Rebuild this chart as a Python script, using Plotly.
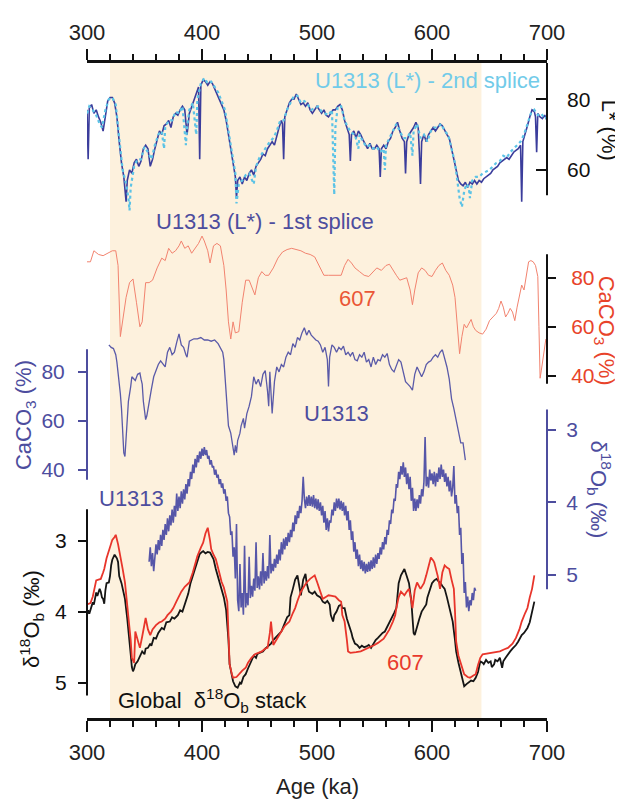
import plotly.graph_objects as go

# ---------------- data ----------------
# U1313 L* - 1st splice
lstar1_age = [300, 301, 302, 304, 306, 308, 310, 312, 314, 316,
              318, 320, 322, 324, 326, 328, 330, 332, 333, 334,
              335, 337, 339, 341, 343, 345, 347, 349, 351, 353,
              355, 357, 359, 361, 363, 365, 367, 369, 371, 373,
              375, 377, 379, 381, 383, 385, 387, 389, 391, 393,
              395, 397, 398, 399, 401, 403, 405, 407, 409, 411,
              413, 415, 417, 419, 421, 423, 425, 427, 429, 430,
              431, 433, 435, 437, 439, 441, 443, 445, 447, 449,
              451, 453, 455, 457, 459, 461, 463, 465, 467, 469,
              470, 471, 472, 474, 476, 478, 480, 482, 484, 486,
              488, 490, 492, 494, 496, 498, 500, 502, 504, 506,
              508, 510, 512, 514, 516, 518, 520, 522, 524, 526,
              528, 529, 530, 532, 534, 536, 538, 540, 542, 544,
              546, 548, 550, 552, 554, 555, 556, 558, 560, 562,
              564, 566, 568, 570, 572, 574, 576, 577, 578, 580,
              582, 584, 586, 588, 589, 590, 591, 593, 595, 597,
              599, 601, 603, 605, 607, 609, 611, 613, 615, 617,
              619, 621, 623, 625, 627, 629, 631, 633, 635, 637,
              639, 641, 643, 645, 647, 649, 651, 653, 655, 657,
              659, 661, 663, 665, 667, 669, 671, 673, 675, 677,
              678, 679, 681, 683, 685, 687, 689, 690, 691, 692,
              694, 696, 698, 700]
lstar1_val = [77, 63, 77.5, 78.5, 76, 77, 75, 73.5, 71, 76,
              79.5, 80.5, 80.5, 79, 75, 68, 62, 58, 55, 51,
              57, 60, 59, 62, 63, 61, 62.5, 66, 67, 66,
              61, 63, 66, 69, 71, 70, 72.5, 73, 74, 72,
              75, 76, 75.5, 77, 78, 77, 70, 76, 78, 80,
              81.5, 83.5, 63, 84, 85.5, 85, 84, 85, 84.5, 83,
              82, 80.5, 79, 77, 74, 70, 66, 62, 58, 52,
              57, 58, 56, 58, 57, 59, 60, 58.5, 61, 62,
              63, 64.5, 64, 66, 67, 68, 67, 70, 72, 74,
              73, 63, 75, 77, 79, 80, 80, 81.5, 80, 78.5,
              79, 78, 79, 77, 76, 77, 78, 77, 76, 77,
              75.5, 75, 76, 77, 77, 78, 78.5, 77, 74, 72,
              70, 62.5, 70, 71, 69, 71, 70, 68.5, 67, 66,
              67.5, 66, 66, 67, 66, 58, 66, 67, 66, 68,
              69, 71, 72, 73.5, 71, 69, 68, 59, 68, 70,
              71, 72, 73.5, 72, 65, 56, 68, 70, 68, 70,
              71, 72, 71, 72, 73, 72.5, 71, 70, 69, 66,
              63, 60, 57, 56, 55.5, 56.5, 55, 56.5, 56, 57,
              56, 57, 56.5, 57.5, 58, 58.5, 59, 60, 60.5, 61,
              62, 62.5, 63, 63.5, 63, 64, 65, 65.5, 66, 67,
              51, 68, 70, 72.5, 75, 77, 76.5, 75, 65, 76,
              75, 74.5, 75.5, 74]

# U1313 L* - 2nd splice
lstar2_age = [300, 302, 305, 308, 311, 313, 316, 319, 322, 325,
              328, 331, 334, 336, 337, 338, 341, 344, 347, 350,
              353, 356, 359, 362, 365, 367, 368, 371, 374, 377,
              380, 383, 386, 387, 389, 392, 395, 396, 399, 402,
              405, 408, 411, 414, 417, 420, 423, 426, 429, 430,
              432, 435, 438, 441, 444, 445, 447, 450, 453, 456,
              459, 462, 465, 468, 471, 474, 477, 480, 483, 486,
              489, 492, 495, 498, 501, 504, 507, 510, 513, 515,
              516, 518, 521, 524, 527, 530, 533, 536, 537, 540,
              543, 546, 549, 552, 555, 558, 559, 560, 563, 566,
              569, 572, 575, 578, 581, 583, 584, 587, 590, 593,
              596, 599, 602, 605, 608, 611, 614, 617, 620, 622,
              624, 626, 628, 630, 632, 633, 635, 638, 641, 644,
              647, 650, 653, 656, 659, 662, 665, 668, 671, 674,
              677, 680, 683, 686, 689, 692, 695, 698, 700]
lstar2_val = [76, 78, 77, 75.5, 73, 72, 77, 80, 80.5, 78.5,
              69, 60, 56, 52, 48.5, 55, 61, 63, 63, 66.5,
              65, 63, 67, 70, 71, 66, 72, 74, 74, 76.5,
              76, 78, 67, 72, 77, 79, 70, 80, 84.5, 86,
              84.5, 85, 83.5, 82, 79.5, 77, 71, 65, 59, 50.5,
              56, 57, 58.5, 59, 57, 56, 61, 63.5, 65, 66.5,
              68, 69, 71, 74, 74, 77, 79, 81, 81, 79,
              79.5, 78.5, 77, 77.5, 78, 76.5, 76, 75.5, 77, 53,
              72, 78, 78, 74, 72, 70.5, 70, 66, 70, 68,
              66.5, 67, 66, 66.5, 65, 66, 60, 67, 69, 71,
              73, 71, 69, 69, 70.5, 64, 71, 73, 69, 70,
              68, 71, 72, 72, 73, 71, 70, 66, 62, 57,
              52, 49.5, 54, 56, 55, 52, 57, 58, 58, 59,
              59.5, 60, 61, 62, 62.5, 64, 63.5, 65, 66, 67,
              68, 70, 73, 76, 77, 75.5, 76, 74.5, 75]

# ODP 607 CaCO3 (%)
caco3_607_age = [300, 303, 306, 310, 314, 318, 322, 325, 327, 329,
                 331, 334, 337, 340, 343, 346, 348, 351, 354, 357,
                 361, 365, 368, 371, 374, 377, 380, 382, 385, 388,
                 391, 394, 397, 400, 402, 405, 407, 410, 413, 416,
                 419, 421, 423, 425, 427, 429, 432, 435, 438, 441,
                 444, 446, 449, 452, 455, 458, 462, 466, 470, 474,
                 478, 482, 486, 490, 494, 498, 502, 506, 510, 514,
                 518, 521, 524, 527, 530, 533, 537, 541, 545, 548,
                 552, 556, 560, 563, 566, 569, 572, 575, 578, 581,
                 583, 585, 588, 591, 594, 597, 600, 603, 606, 609,
                 612, 615, 618, 620, 622, 624, 626, 628, 630, 632,
                 634, 636, 638, 641, 644, 647, 650, 653, 656, 658,
                 660, 662, 664, 666, 668, 670, 672, 674, 676, 678,
                 680, 682, 684, 686, 688, 690, 692, 693, 694, 695,
                 697, 699]
caco3_607_val = [86.5, 86.5, 91, 89.5, 89, 90, 91, 91, 85, 56,
                 62, 72, 78, 79.5, 70, 60, 62, 78, 78, 79,
                 84, 88, 87, 92, 90, 91, 93, 95, 92, 93,
                 90, 92, 94, 97, 95, 91, 86, 93, 94, 93,
                 85, 75, 62, 55, 62, 57.5, 58, 70, 79, 79,
                 75, 73, 80, 82.5, 81, 81, 84, 88, 90.5, 91.5,
                 92, 91.5, 91, 90, 89.5, 88.5, 85, 81, 81, 81,
                 81, 81, 85, 87.5, 86, 84, 82.5, 81, 80.5, 82,
                 84, 83, 85, 85.5, 83, 81, 79, 79.5, 80, 75,
                 69, 75, 82, 84, 83, 81, 80.5, 83, 85, 86,
                 83, 81, 77, 72, 60, 49, 56, 61, 59.5, 61,
                 63, 60, 58.5, 57.5, 57, 59, 62.5, 64, 65.5, 67.5,
                 70.5, 68, 64, 65.5, 67.5, 66, 62.5, 68, 72, 77,
                 75, 80, 86.5, 87, 86.5, 85, 80.5, 60, 39, 42,
                 48.5, 55]

# IODP U1313 CaCO3 (%)
caco3_u1313_age = [319, 321, 323, 325, 326, 328, 329, 330, 331, 332,
                   333, 334, 335, 336, 338, 339, 341, 342, 344, 346,
                   347, 348, 349, 350, 351, 352, 354, 356, 358, 360,
                   362, 364, 366, 368, 370, 372, 374, 376, 378, 380,
                   382, 384, 386, 387, 389, 391, 393, 396, 399, 402,
                   405, 408, 411, 414, 416, 418, 419, 420, 421, 422,
                   423, 425, 427, 428, 429, 430, 431, 433, 434, 436,
                   437, 439, 441, 443, 445, 447, 449, 451, 453, 455,
                   457, 458, 459, 461, 463, 465, 467, 469, 471, 473,
                   475, 477, 479, 481, 483, 485, 487, 489, 491, 493,
                   495, 497, 499, 501, 503, 505, 507, 509, 510, 511,
                   513, 515, 517, 519, 521, 523, 525, 527, 529, 531,
                   533, 535, 537, 539, 541, 543, 545, 547, 549, 551,
                   553, 555, 557, 559, 561, 563, 565, 567, 569, 571,
                   573, 575, 577, 579, 581, 583, 585, 587, 589, 591,
                   593, 595, 597, 599, 601, 603, 605, 607, 609, 611,
                   613, 615, 617, 619, 621, 622, 623, 624, 625, 627,
                   628, 629]
caco3_u1313_val = [91, 90, 89.5, 87, 84, 76, 71, 65, 55, 47,
                   45.5, 52, 60, 68, 74, 78, 77, 76.5, 79, 79.5,
                   77, 75, 68, 63, 60.5, 62, 68.5, 73, 78, 80.5,
                   83, 84.5, 83, 82, 88, 90, 87, 88, 92, 95.5,
                   91, 90, 87, 86, 92.5, 93, 93.5, 93.5, 94, 93,
                   93, 92.5, 93, 91.5, 90, 88, 85, 78, 71, 64,
                   58, 55, 48, 46, 50, 47, 52, 55, 58, 61,
                   57, 63, 66, 70, 78, 75, 77, 74, 79, 80.5,
                   72, 66, 80, 63, 76, 82, 80, 83, 82, 86,
                   88, 87, 91.5, 90, 94, 93, 96, 98, 95, 97,
                   95, 94, 93, 92.5, 91, 88, 90, 85, 74, 86,
                   91, 90, 88, 90, 89, 90.5, 87, 88, 86.5, 88,
                   85, 84.5, 87, 86, 88, 84, 85, 82, 86, 83,
                   85, 84.5, 87, 86, 87.5, 83, 81, 80, 83, 85,
                   84, 80, 76, 75, 74, 72.5, 79, 82, 80, 78,
                   80, 83, 84, 84.5, 86, 87, 86, 88, 89, 86,
                   82, 77, 69, 65, 60, 58, 55, 52, 51, 51,
                   47, 44]

# IODP U1313 benthic d18O (permil)
d18o_u1313_age = [354, 355, 356, 357, 358, 359, 360, 361, 362, 363,
                  364, 365, 366, 367, 368, 369, 370, 371, 372, 373,
                  374, 375, 376, 377, 378, 379, 380, 381, 382, 383,
                  384, 385, 386, 387, 388, 389, 390, 391, 392, 393,
                  394, 395, 396, 397, 398, 399, 400, 401, 402, 403,
                  404, 405, 406, 407, 408, 409, 410, 411, 412, 413,
                  414, 415, 416, 417, 418, 419, 420, 421, 422, 423,
                  424, 425, 426, 427, 428, 429, 430, 431, 432, 433,
                  434, 435, 436, 437, 438, 439, 440, 441, 442, 443,
                  444, 445, 446, 447, 448, 449, 450, 451, 452, 453,
                  454, 455, 456, 457, 458, 459, 460, 461, 462, 463,
                  464, 465, 466, 467, 468, 469, 470, 471, 472, 473,
                  474, 475, 476, 477, 478, 479, 480, 481, 482, 483,
                  484, 485, 486, 487, 488, 489, 490, 491, 492, 493,
                  494, 495, 496, 497, 498, 499, 500, 501, 502, 503,
                  504, 505, 506, 507, 508, 509, 510, 511, 512, 513,
                  514, 515, 516, 517, 518, 519, 520, 521, 522, 523,
                  524, 525, 526, 527, 528, 529, 530, 531, 532, 533,
                  534, 535, 536, 537, 538, 539, 540, 541, 542, 543,
                  544, 545, 546, 547, 548, 549, 550, 551, 552, 553,
                  554, 555, 556, 557, 558, 559, 560, 561, 562, 563,
                  564, 565, 566, 567, 568, 569, 570, 571, 572, 573,
                  574, 575, 576, 577, 578, 579, 580, 581, 582, 583,
                  584, 585, 586, 587, 588, 589, 590, 591, 592, 593,
                  594, 595, 596, 597, 598, 599, 600, 601, 602, 603,
                  604, 605, 606, 607, 608, 609, 610, 611, 612, 613,
                  614, 615, 616, 617, 618, 619, 620, 621, 622, 623,
                  624, 625, 626, 627, 628, 629, 630, 631, 632, 633,
                  634, 635, 636, 637, 638]
d18o_u1313_val = [4.82, 4.62, 4.88, 4.70, 4.95, 4.75, 4.58, 4.72, 4.52, 4.66,
                  4.45, 4.60, 4.38, 4.52, 4.30, 4.45, 4.22, 4.40, 4.18, 4.32,
                  4.10, 4.28, 4.05, 4.20, 3.88, 4.12, 3.92, 4.08, 3.85, 4.02,
                  3.82, 3.96, 3.75, 3.88, 3.68, 3.78, 3.58, 3.68, 3.48, 3.60,
                  3.40, 3.52, 3.35, 3.45, 3.30, 3.40, 3.26, 3.36, 3.24, 3.35,
                  3.28, 3.40, 3.36, 3.48, 3.42, 3.52, 3.50, 3.62, 3.55, 3.66,
                  3.62, 3.75, 3.68, 3.80, 3.74, 3.88, 3.82, 3.98, 3.92, 4.15,
                  4.20, 4.45, 4.40, 4.75, 4.62, 5.05, 4.30, 5.35, 5.50, 4.85,
                  5.45, 5.25, 5.55, 4.60, 5.45, 5.25, 5.42, 4.75, 5.32, 5.15,
                  5.30, 5.05, 5.22, 4.55, 5.18, 5.02, 5.20, 4.95, 5.15, 4.70,
                  5.12, 4.95, 5.08, 4.88, 5.05, 4.45, 4.98, 4.85, 4.95, 4.78,
                  4.90, 4.72, 4.85, 4.65, 4.80, 4.55, 4.72, 4.50, 4.65, 4.48,
                  4.60, 4.42, 4.55, 4.38, 4.48, 4.28, 4.40, 4.18, 4.30, 4.12,
                  4.22, 4.05, 4.15, 3.98, 3.65, 3.95, 4.08, 3.92, 4.05, 3.90,
                  4.05, 3.92, 4.06, 3.90, 4.08, 3.95, 4.10, 3.96, 4.12, 4.00,
                  4.18, 4.05, 4.28, 4.12, 4.38, 4.22, 4.40, 4.25, 4.28, 4.10,
                  4.18, 4.00, 4.12, 3.95, 4.08, 3.95, 4.10, 3.98, 4.12, 4.00,
                  4.18, 4.05, 4.25, 4.12, 4.38, 4.25, 4.52, 4.40, 4.68, 4.55,
                  4.78, 4.65, 4.88, 4.72, 4.92, 4.80, 4.95, 4.82, 4.98, 4.85,
                  4.96, 4.82, 4.95, 4.80, 4.92, 4.76, 4.90, 4.72, 4.85, 4.70,
                  4.78, 4.62, 4.72, 4.55, 4.65, 4.48, 4.58, 4.38, 4.45, 4.25,
                  4.30, 4.10, 4.15, 3.95, 3.98, 3.75, 3.80, 3.58, 3.68, 3.50,
                  3.62, 3.45, 3.65, 3.52, 3.75, 3.60, 3.82, 3.65, 3.98, 3.80,
                  4.12, 3.95, 4.12, 3.96, 4.08, 3.90, 4.02, 3.82, 3.92, 3.72,
                  3.10, 3.78, 3.65, 3.80, 3.55, 3.70, 3.60, 3.75, 3.58, 3.78,
                  3.60, 3.72, 3.52, 3.68, 3.48, 3.65, 3.55, 3.72, 3.60, 3.78,
                  3.65, 3.85, 3.70, 3.92, 3.80, 3.50, 4.02, 3.90, 4.15, 4.05,
                  4.45, 4.35, 4.85, 4.70, 5.25, 5.10, 5.45, 5.30, 5.50, 5.35,
                  5.42, 5.25, 5.35, 5.18, 5.22]

# Global benthic d18O stack (permil)
stack_age = [300, 301, 302, 304, 305, 306, 308, 309, 311, 312,
             313, 314, 315, 316, 317, 319, 320, 321, 322, 324,
             326, 327, 328, 330, 333, 335, 336, 338, 339, 340,
             341, 342, 344, 346, 348, 350, 351, 353, 355, 356,
             358, 360, 362, 365, 367, 369, 372, 374, 376, 379,
             381, 383, 386, 388, 390, 392, 394, 396, 398, 400,
             401, 403, 405, 407, 409, 410, 412, 414, 415, 417,
             419, 421, 422, 423, 424, 426, 427, 429, 431, 433,
             434, 436, 438, 440, 442, 443, 445, 447, 448, 450,
             453, 455, 458, 460, 462, 464, 466, 469, 471, 472,
             474, 476, 477, 479, 481, 483, 485, 486, 488, 490,
             491, 493, 496, 498, 500, 503, 505, 507, 509, 511,
             512, 514, 515, 517, 519, 521, 522, 524, 526, 528,
             530, 531, 533, 535, 537, 539, 541, 543, 545, 547,
             549, 551, 553, 555, 557, 559, 561, 563, 565, 567,
             569, 570, 571, 573, 575, 576, 578, 580, 582, 584,
             585, 587, 589, 591, 593, 595, 596, 598, 600, 602,
             604, 606, 607, 609, 611, 613, 614, 616, 618, 620,
             621, 623, 625, 627, 628, 630, 632, 634, 636, 638,
             640, 642, 644, 645, 647, 649, 651, 652, 654, 655,
             657, 659, 661, 662, 664, 666, 668, 670, 673, 675,
             678, 680, 683, 685, 687, 689]
stack_val = [4.05, 3.98, 4.03, 3.92, 3.87, 3.9, 3.73, 3.78, 3.68, 3.72,
             3.8, 3.82, 3.89, 3.7, 3.6, 3.59, 3.5, 3.35, 3.27, 3.2,
             3.25, 3.3, 3.5, 3.6, 3.82, 4.1, 4.24, 4.6, 4.78, 4.84,
             4.8, 4.74, 4.7, 4.62, 4.56, 4.6, 4.52, 4.51, 4.45, 4.48,
             4.37, 4.38, 4.3, 4.23, 4.25, 4.15, 4.14, 4.08, 4.1, 4.05,
             3.98, 4.0, 3.86, 3.75, 3.6, 3.49, 3.4, 3.3, 3.19, 3.16,
             3.15, 3.18, 3.16, 3.17, 3.22, 3.26, 3.4, 3.52, 3.59, 3.7,
             3.8, 3.98, 4.14, 4.4, 4.74, 4.9, 4.98, 5.05, 5.07, 5.0,
             5.02, 4.92, 4.88, 4.8, 4.72, 4.7, 4.62, 4.65, 4.6, 4.58,
             4.56, 4.52, 4.47, 4.45, 4.4, 4.37, 4.33, 4.28, 4.2, 4.14,
             4.08, 4.05, 3.8, 3.68, 3.55, 3.49, 3.65, 3.77, 3.55, 3.47,
             3.6, 3.72, 3.75, 3.72, 3.77, 3.8, 3.86, 3.88, 3.85, 3.9,
             4.05, 4.14, 4.05, 4.0, 3.92, 3.9, 3.95, 3.95, 4.1, 4.19,
             4.3, 4.37, 4.45, 4.47, 4.51, 4.48, 4.5, 4.49, 4.47, 4.51,
             4.45, 4.4, 4.37, 4.33, 4.3, 4.28, 4.22, 4.15, 4.1, 4.02,
             3.95, 3.8, 3.6, 3.49, 3.42, 3.4, 3.5, 3.6, 3.85, 4.3,
             4.33, 4.2, 4.1, 4.0, 3.95, 3.9, 3.8, 3.68, 3.6, 3.56,
             3.54, 3.58, 3.59, 3.64, 3.68, 3.8, 3.86, 4.0, 4.14, 4.4,
             4.56, 4.72, 4.84, 5.0, 5.05, 5.02, 5.0, 4.97, 4.98, 4.93,
             4.85, 4.7, 4.72, 4.74, 4.68, 4.72, 4.7, 4.78, 4.74, 4.68,
             4.7, 4.65, 4.79, 4.7, 4.65, 4.6, 4.56, 4.52, 4.47, 4.42,
             4.33, 4.3, 4.23, 4.15, 4.0, 3.86]

# ODP 607 benthic d18O (permil)
d18o_607_age = [300, 303, 305, 307, 308, 310, 312, 314, 315, 317,
                318, 320, 322, 324, 325, 327, 328, 331, 333, 336,
                338, 339, 341, 342, 344, 346, 348, 351, 353, 355,
                357, 360, 363, 365, 368, 370, 373, 375, 378, 382,
                385, 389, 392, 396, 399, 401, 403, 405, 407, 408,
                410, 412, 415, 417, 419, 422, 423, 424, 426, 427,
                430, 432, 435, 438, 440, 443, 446, 449, 452, 455,
                457, 459, 460, 462, 465, 469, 472, 476, 479, 481,
                483, 486, 489, 491, 494, 498, 500, 502, 505, 508,
                510, 513, 516, 519, 521, 522, 524, 526, 527, 529,
                531, 534, 538, 541, 545, 548, 550, 553, 555, 558,
                560, 563, 566, 568, 569, 571, 573, 576, 578, 580,
                582, 583, 585, 587, 590, 593, 595, 597, 599, 601,
                602, 605, 607, 609, 611, 613, 615, 617, 619, 620,
                621, 623, 625, 628, 631, 633, 636, 638, 640, 642,
                644, 648, 652, 656, 659, 663, 666, 670, 673, 676,
                678, 681, 683, 685, 687, 689]
d18o_607_val = [3.9, 3.88, 3.79, 3.6, 3.56, 3.55, 3.54, 3.45, 3.4, 3.25,
                3.2, 3.08, 2.99, 2.95, 2.92, 3.05, 3.13, 3.4, 3.59, 4.06,
                4.4, 4.65, 4.72, 4.28, 4.4, 4.51, 4.35, 4.09, 4.25, 4.33,
                4.25, 4.19, 4.15, 4.14, 4.1, 4.05, 4.0, 3.95, 3.85, 3.72,
                3.65, 3.59, 3.45, 3.22, 3.1, 3.03, 2.9, 2.82, 3.0, 3.12,
                3.2, 3.26, 3.45, 3.58, 3.66, 3.86, 4.3, 4.74, 4.88, 4.93,
                4.92, 4.88, 4.83, 4.79, 4.72, 4.65, 4.6, 4.58, 4.56, 4.52,
                4.51, 4.3, 4.14, 4.47, 4.38, 4.28, 4.2, 4.14, 4.02, 3.95,
                3.85, 3.72, 3.64, 3.59, 3.54, 3.49, 3.58, 3.68, 3.82, 3.79,
                3.77, 3.78, 3.79, 3.84, 3.86, 4.05, 4.14, 4.4, 4.56, 4.58,
                4.58, 4.57, 4.56, 4.54, 4.51, 4.49, 4.47, 4.44, 4.42, 4.38,
                4.33, 4.25, 4.14, 4.05, 3.95, 3.8, 3.72, 3.77, 3.72, 3.68,
                3.85, 3.95, 3.7, 3.59, 3.68, 3.6, 3.49, 3.35, 3.24, 3.28,
                3.31, 3.5, 3.68, 3.45, 3.35, 3.38, 3.4, 3.55, 3.68, 4.0,
                4.42, 4.62, 4.74, 4.88, 4.92, 4.93, 4.9, 4.88, 4.75, 4.65,
                4.6, 4.59, 4.58, 4.57, 4.56, 4.53, 4.51, 4.45, 4.37, 4.25,
                4.14, 4.02, 3.95, 3.8, 3.68, 3.49]

# highlighted age interval (ka)
shade_start, shade_end = 320, 643

# axis ticks
x_ticks = [300, 400, 500, 600, 700]
lstar_ticks = [60, 80]
caco3_ticks = [40, 60, 80]
d18o_ticks = [3, 4, 5]

# ---------------- layout geometry (page pixels) ----------------
PAGE_W, PAGE_H = 623, 803
BODY = 8                       # default html body margin
PL, PR, PT, PB = 87, 547, 50, 718   # plot area on the page
W, H = PAGE_W - BODY, PAGE_H - BODY
ML, MT = PL - BODY, PT - BODY
MR, MB = PAGE_W - PR, PAGE_H - PB
PW, PH = PR - PL, PB - PT

FONT = "Liberation Sans, Arial, Helvetica, sans-serif"
BLACK = "#111111"
SLATE = "#4d4d9e"
RED_AX = "#e8432a"
C_L1 = "#3b3d9c"
C_L2 = "#5cc3e6"
C_607C = "#f2836f"
C_U13C = "#5a5aa8"
C_U13D = "#5656a8"
C_STACK = "#151515"
C_RED = "#e8352b"
TXT = 22
TICK = 21


def rng(v1, p1, v2, p2):
    k = (p2 - p1) / (v2 - v1)
    return [v1 + (PB - p1) / k, v1 + (PT - p1) / k]


def px(x):
    return (x - PL) / PW


def py(y):
    return (PB - y) / PH


fig = go.Figure()

fig.add_trace(go.Scatter(x=caco3_607_age, y=caco3_607_val, yaxis="y3", mode="lines",
                         line=dict(color=C_607C, width=1)))
fig.add_trace(go.Scatter(x=caco3_u1313_age, y=caco3_u1313_val, yaxis="y4", mode="lines",
                         line=dict(color=C_U13C, width=1.3)))
fig.add_trace(go.Scatter(x=d18o_u1313_age, y=d18o_u1313_val, yaxis="y5", mode="lines",
                         line=dict(color=C_U13D, width=1.6)))
fig.add_trace(go.Scatter(x=stack_age, y=stack_val, yaxis="y", mode="lines",
                         line=dict(color=C_STACK, width=1.8)))
fig.add_trace(go.Scatter(x=d18o_607_age, y=d18o_607_val, yaxis="y", mode="lines",
                         line=dict(color=C_RED, width=1.8)))
fig.add_trace(go.Scatter(x=lstar1_age, y=lstar1_val, xaxis="x2", yaxis="y2", mode="lines",
                         line=dict(color=C_L1, width=1.6)))
fig.add_trace(go.Scatter(x=lstar2_age, y=lstar2_val, xaxis="x2", yaxis="y2", mode="lines",
                         line=dict(color=C_L2, width=2.2, dash="dot")))

common_y = dict(showgrid=False, zeroline=False, showline=False, ticks="outside",
                tickwidth=1.5, ticklen=8, fixedrange=True)

xcommon = dict(range=[300, 700], tickvals=x_ticks, showgrid=False, zeroline=False,
               showline=True, linewidth=2.5, linecolor=BLACK, ticks="outside",
               ticklen=11, tickwidth=1.8, tickcolor=BLACK,
               tickfont=dict(family=FONT, size=TXT, color="#222222"),
               minor=dict(dtick=20, ticks="outside", ticklen=6, tickwidth=1.5, tickcolor=BLACK))


def tf(color):
    return dict(family=FONT, size=TICK, color=color)


fig.update_layout(
    width=W, height=H,
    margin=dict(l=ML, r=MR, t=MT, b=MB, pad=0),
    paper_bgcolor="white", plot_bgcolor="white",
    showlegend=False,
    font=dict(family=FONT, color=BLACK),
    xaxis=dict(**xcommon, side="bottom", anchor="y", ticklabelstandoff=2),
    xaxis2=dict(**xcommon, side="top", overlaying="x", anchor="y", ticklabelstandoff=0),
    yaxis=dict(**common_y, range=rng(3, 537, 5, 682), tickvals=d18o_ticks, side="left",
               tickcolor=BLACK, tickfont=tf(BLACK), ticklabelstandoff=7),
    yaxis2=dict(**{**common_y, "ticks": "inside", "ticklen": 11}, range=rng(80, 87, 60, 159),
                tickvals=lstar_ticks, side="right", overlaying="y", anchor="x",
                tickcolor=BLACK, tickfont=tf(BLACK), ticklabelstandoff=19),
    yaxis3=dict(**common_y, range=rng(80, 269, 40, 369), tickvals=caco3_ticks, side="right",
                overlaying="y", anchor="x", tickcolor=BLACK,
                tickfont=tf(RED_AX), ticklabelstandoff=11),
    yaxis4=dict(**common_y, range=rng(80, 365, 40, 465), tickvals=caco3_ticks, side="left",
                overlaying="y", anchor="x", tickcolor=SLATE,
                tickfont=tf(SLATE), ticklabelstandoff=9),
    yaxis5=dict(**common_y, range=rng(3, 424, 5, 572), tickvals=d18o_ticks, side="right",
                overlaying="y", anchor="x", tickcolor=SLATE,
                tickfont=tf(SLATE), ticklabelstandoff=6),
)

# shaded interval and partial axis lines
shapes = [dict(type="rect", xref="x", yref="paper", x0=shade_start, x1=shade_end, y0=0, y1=1,
               fillcolor="#fdf1dd", line=dict(width=0), layer="below")]
axis_segments = [
    ("y2", 1, 90.3, 52.8, BLACK),
    ("y3", 1, 89.6, 36.8, BLACK),
    ("y4", 0, 89.2, 36.0, SLATE),
    ("y5", 1, 2.72, 5.2, SLATE),
    ("y", 0, 2.56, 5.18, BLACK),
]
for yr, xs, a, b, col in axis_segments:
    shapes.append(dict(type="line", xref="paper", yref=yr, x0=xs, x1=xs, y0=a, y1=b,
                       line=dict(color=col, width=2), layer="above"))
fig.update_layout(shapes=shapes)


def ann(text, x, y, color, size=TXT, angle=0):
    fig.add_annotation(text=text, xref="paper", yref="paper", x=px(x), y=py(y),
                       showarrow=False, textangle=angle, xanchor="center", yanchor="middle",
                       font=dict(family=FONT, size=size, color=color))


ann("U1313 (L*) - 2nd splice", 427, 68, "#72cbe9")
ann("U1313 (L*) - 1st splice", 265, 212, SLATE)
ann("607", 357, 290, "#ea5636")
ann("U1313", 336, 407, SLATE)
ann("U1313", 131, 494, SLATE)
ann("607", 405, 661, "#e8392c")
ann("Global  δ<sup>18</sup>O<sub>b</sub> stack", 212, 700, BLACK)
ann("Age (ka)", 317, 788, "#222222")
ann("L* (%)", 609, 118, BLACK, TXT, 90)
ann("CaCO<sub>3</sub> (%)", 605, 323, RED_AX, TXT, 90)
ann("CaCO<sub>3</sub> (%)", 25, 409, SLATE, TXT, -90)
ann("δ<sup>18</sup>O<sub>b</sub> (‰)", 599, 485, SLATE, TXT, 90)
ann("δ<sup>18</sup>O<sub>b</sub> (‰)", 32, 617, BLACK, TXT, -90)

fig.write_html("out.html")
